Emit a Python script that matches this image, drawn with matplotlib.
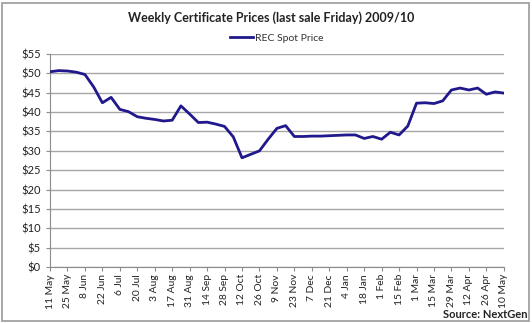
import numpy as np
import matplotlib
matplotlib.use('Agg')
import matplotlib.pyplot as plt
from matplotlib.patches import Rectangle

plt.rcParams['font.family'] = ['Lato', 'DejaVu Sans']

# weekly REC spot price, 11 May 2009 .. 10 May 2010
prices = [50.4, 50.7, 50.6, 50.3, 49.7, 46.5, 42.4, 43.8, 40.7, 40.1,
          38.8, 38.4, 38.1, 37.7, 37.9, 41.6, 39.5, 37.3, 37.4, 36.9,
          36.3, 33.6, 28.2, 29.1, 30.0, 33.0, 35.8, 36.5, 33.7, 33.7,
          33.8, 33.8, 33.9, 34.0, 34.1, 34.1, 33.2, 33.7, 33.0, 34.8,
          34.1, 36.4, 42.3, 42.4, 42.2, 42.9, 45.7, 46.2, 45.7, 46.2,
          44.6, 45.2, 44.9]
tick_labels = ['11 May', '25 May', '8 Jun', '22 Jun', '6 Jul', '20 Jul',
               '3 Aug', '17 Aug', '31 Aug', '14 Sep', '28 Sep', '12 Oct',
               '26 Oct', '9 Nov', '23 Nov', '7 Dec', '21 Dec', '4 Jan',
               '18 Jan', '1 Feb', '15 Feb', '1 Mar', '15 Mar', '29 Mar',
               '12 Apr', '26 Apr', '10 May']
y_ticks = list(range(0, 56, 5))

weeks = np.arange(len(prices))

fig = plt.figure(figsize=(5.32, 3.23), dpi=100)
ax = fig.add_axes([0.094, 0.173, 0.853, 0.66])

ax.plot(weeks, prices, color='#20188c', linewidth=2.0, label='REC Spot Price',
        solid_joinstyle='round', zorder=3)

ax.set_xlim(0, len(prices) - 1)
ax.set_ylim(0, 55)
ax.set_yticks(y_ticks)
ax.set_yticklabels(['${0:d}'.format(v) for v in y_ticks], fontsize=8)
ax.set_xticks(weeks[::2])
ax.set_xticklabels(tick_labels, rotation=90, fontsize=7.4)

ax.grid(axis='y', color='#a6a6a6', linewidth=1.0)
ax.set_axisbelow(True)
for side in ['top', 'right']:
    ax.spines[side].set_visible(False)
for side in ['left', 'bottom']:
    ax.spines[side].set_color('#8c8c8c')
ax.tick_params(axis='both', colors='#8c8c8c', labelcolor='#222222',
               length=3, width=0.8)
ax.tick_params(axis='x', pad=2)

fig.text(0.51, 0.945, 'Weekly Certificate Prices (last sale Friday) 2009/10',
         ha='center', va='center', fontsize=9, fontweight='bold', color='#222222')
ax.legend(loc='center', bbox_to_anchor=(0.5, 1.075), frameon=False,
          fontsize=7.5, handlelength=2.2, handletextpad=0.2,
          labelcolor='#333333')

fig.text(0.992, 0.026, 'Source: NextGen', ha='right', va='center',
         fontsize=8, fontweight='bold', color='#222222')

fig.patches.append(Rectangle((0.004, 0.006), 0.99, 0.985, transform=fig.transFigure,
                             fill=False, edgecolor='#9a9a9a', linewidth=1.2))

fig.savefig('out.png', dpi=100)
